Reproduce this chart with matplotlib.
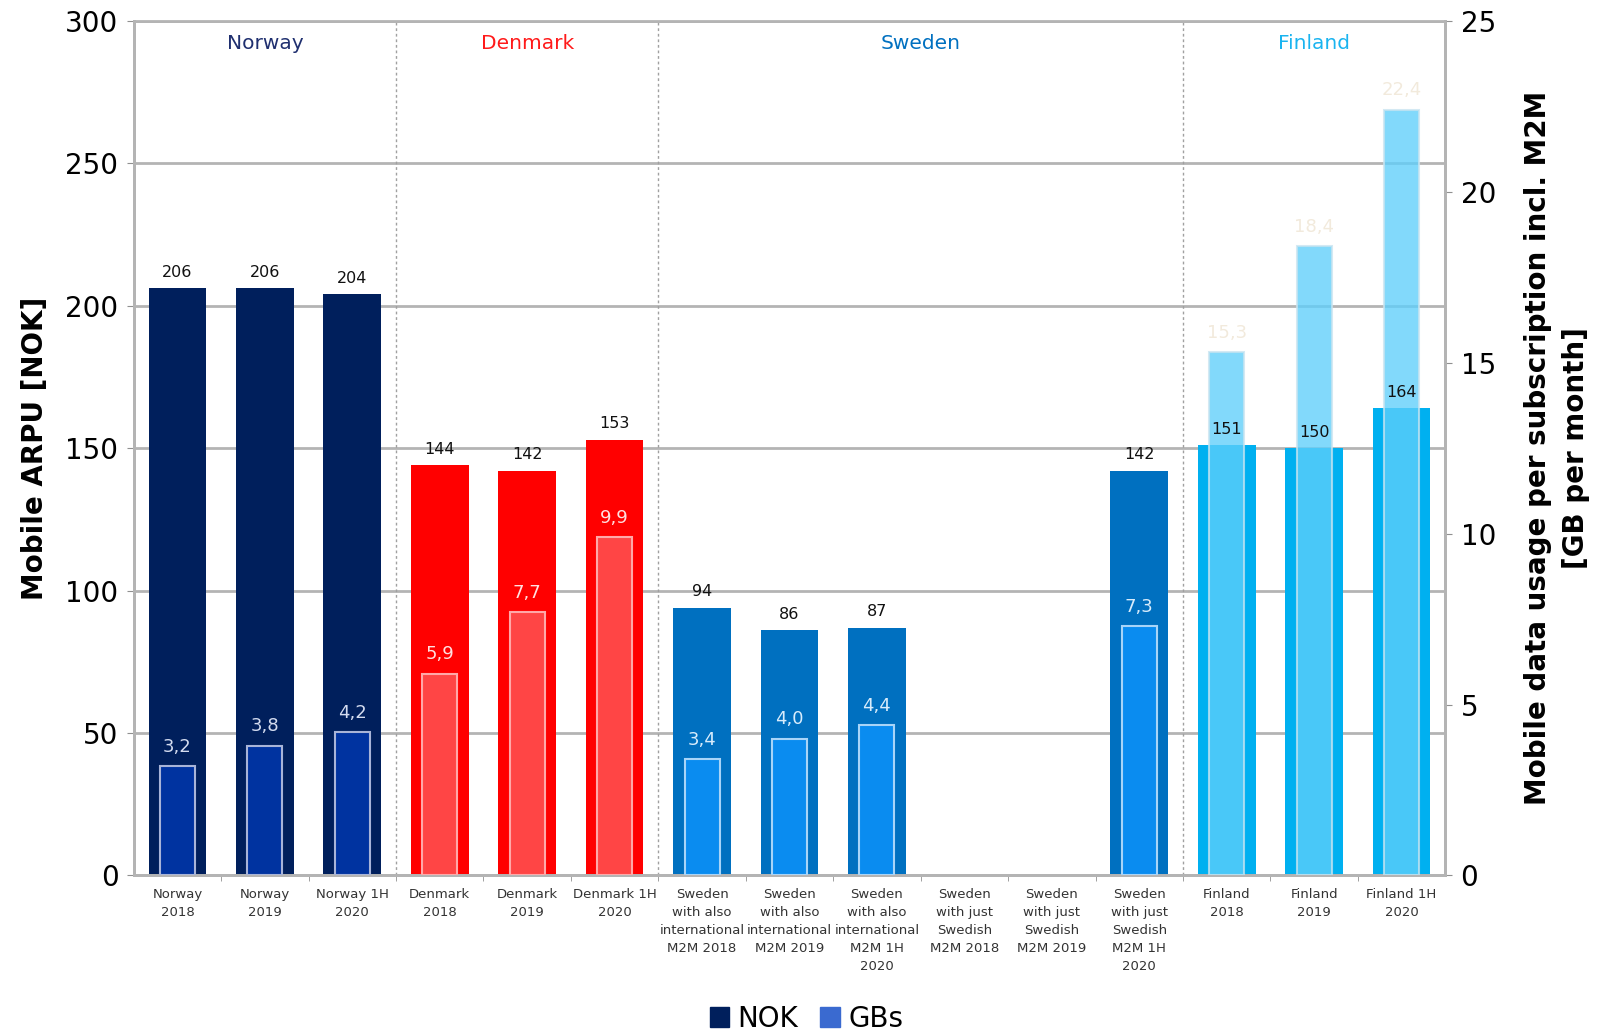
import matplotlib
matplotlib.use("Agg")
import matplotlib.pyplot as plt
import numpy as np
from matplotlib.patches import Patch

categories = ["Norway\n2018", "Norway\n2019", "Norway 1H\n2020",
              "Denmark\n2018", "Denmark\n2019", "Denmark 1H\n2020",
              "Sweden\nwith also\ninternational\nM2M 2018",
              "Sweden\nwith also\ninternational\nM2M 2019",
              "Sweden\nwith also\ninternational\nM2M 1H\n2020",
              "Sweden\nwith just\nSwedish\nM2M 2018",
              "Sweden\nwith just\nSwedish\nM2M 2019",
              "Sweden\nwith just\nSwedish\nM2M 1H\n2020",
              "Finland\n2018", "Finland\n2019", "Finland 1H\n2020"]
groups = ["Norway"] * 3 + ["Denmark"] * 3 + ["Sweden"] * 6 + ["Finland"] * 3
nok = [206, 206, 204, 144, 142, 153, 94, 86, 87, None, None, 142, 151, 150, 164]
gbs = [3.2, 3.8, 4.2, 5.9, 7.7, 9.9, 3.4, 4.0, 4.4, None, None, 7.3, 15.3, 18.4, 22.4]
country_names = ["Norway", "Denmark", "Sweden", "Finland"]

nok_col = {"Norway": "#001f5c", "Denmark": "#ff0000", "Sweden": "#0070c0", "Finland": "#00b0f0"}
gb_col = {"Norway": "#0033a0", "Denmark": "#ff4545", "Sweden": "#0a8cf0", "Finland": "#5fcffb"}
gb_alpha = {"Norway": 1.0, "Denmark": 1.0, "Sweden": 1.0, "Finland": 0.78}
gb_edge = {"Norway": "#a8b4d8", "Denmark": "#ffa8a8", "Sweden": "#a8d4f8", "Finland": "#c8e4f0"}
gb_lab = {"Norway": "#d4dcf0", "Denmark": "#ffe0e0", "Sweden": "#d8ecfc", "Finland": "#f2eadc"}
head_col = {"Norway": "#1f2f6f", "Denmark": "#ff1a1a", "Sweden": "#0070c0", "Finland": "#1ab4f0"}

fig = plt.figure(figsize=(16.13, 10.33), dpi=100)
ax = fig.add_axes([0.0829, 0.1525, 0.8131, 0.8275])
ax2 = ax.twinx()

x = np.arange(len(categories))
grid_c = "#b4b4b4"

ax.set_xlim(-0.5, len(categories) - 0.5)
ax.set_ylim(0, 300)
ax2.set_ylim(0, 25)
ax.set_yticks(np.arange(0, 301, 50))
ax2.set_yticks(np.arange(0, 26, 5))
ax.set_axisbelow(True)
ax.yaxis.grid(True, color=grid_c, linewidth=2)

for i in x:
    g = groups[i]
    if nok[i] is not None:
        ax.bar(i, nok[i], width=0.66, color=nok_col[g], zorder=2)
        ax2.text(i, nok[i] + 3, str(nok[i]), ha="center", va="bottom",
                 fontsize=11.5, color="#111111", zorder=6, transform=ax.transData)
    if gbs[i] is not None:
        ax2.bar(i, gbs[i], width=0.4, color=gb_col[g], alpha=gb_alpha[g],
                edgecolor=gb_edge[g], linewidth=1.5, zorder=3)
        ax2.text(i, gbs[i] + 0.3, f"{gbs[i]:.1f}".replace(".", ","),
                 ha="center", va="bottom", fontsize=13, color=gb_lab[g], zorder=5)

# separators between countries
bounds = []
for i in range(1, len(groups)):
    if groups[i] != groups[i - 1]:
        bounds.append(i - 0.5)
for b in bounds:
    ax.axvline(b, color="#a0a0a0", linestyle=(0, (2, 2)), linewidth=1)

# country headers
edges = [-0.5] + bounds + [len(groups) - 0.5]
for k, name in enumerate(country_names):
    cx = (edges[k] + edges[k + 1]) / 2
    ax.text(cx, 0.973, name, transform=ax.get_xaxis_transform(), ha="center",
            va="center", fontsize=14.5, color=head_col[name])

ax.set_xticks(x)
ax.set_xticklabels(categories, fontsize=9.5, color="#333333", linespacing=1.5)
ax.tick_params(axis="x", length=0, pad=9)
ax.set_xticks(np.arange(0.5, len(categories) - 0.5, 1), minor=True)
ax.tick_params(axis="x", which="minor", length=4, color="#909090")

ax.tick_params(axis="y", labelsize=20, length=5, color="#909090", pad=6)
ax2.tick_params(axis="y", labelsize=20, length=5, color="#909090", pad=6)

for a in (ax, ax2):
    for s in a.spines.values():
        s.set_color(grid_c)
        s.set_linewidth(2)
ax2.spines["top"].set_visible(False)

ax.set_ylabel("Mobile ARPU [NOK]", fontsize=20, fontweight="bold", labelpad=12)
ax2.set_ylabel("Mobile data usage per subscription incl. M2M\n[GB per month]",
               fontsize=20, fontweight="bold", labelpad=20, linespacing=1.45)

handles = [Patch(color="#001f5c", label="NOK"), Patch(color="#3a6ad0", label="GBs")]
fig.legend(handles=handles, loc="center", bbox_to_anchor=(0.5, 0.014), ncol=2,
           frameon=False, fontsize=20, handlelength=0.7, handleheight=0.7,
           handletextpad=0.3, columnspacing=0.8, borderpad=0.1)

fig.savefig("out.png", dpi=100)
